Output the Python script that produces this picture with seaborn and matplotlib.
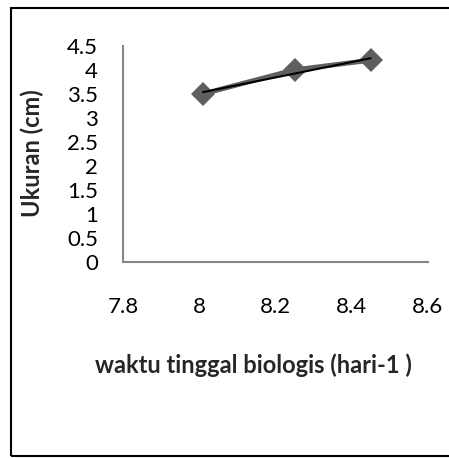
import numpy as np
import pandas as pd
import matplotlib
matplotlib.use("Agg")
import matplotlib.pyplot as plt
from matplotlib.patches import Rectangle
import seaborn as sns

# values
waktu = [8.01, 8.25, 8.45]
ukuran = [3.5, 4.0, 4.2]
x_ticks = [7.8, 8.0, 8.2, 8.4, 8.6]
x_ticklabels = ["7.8", "8", "8.2", "8.4", "8.6"]
y_ticks = [0, 0.5, 1, 1.5, 2, 2.5, 3, 3.5, 4, 4.5]
y_ticklabels = ["0", "0.5", "1", "1.5", "2", "2.5", "3", "3.5", "4", "4.5"]

df = pd.DataFrame({"waktu": waktu, "ukuran": ukuran})

sns.set_theme(style="white")
plt.rcParams["font.family"] = ["Lato", "DejaVu Sans"]

fig = plt.figure(figsize=(4.49, 4.58), dpi=100)
ax = fig.add_axes([0.274, 0.428, 0.679, 0.472])

# data series: thick grey line with diamond markers
sns.lineplot(data=df, x="waktu", y="ukuran", ax=ax, color="#5f5f5f",
             linewidth=3.5, marker="D", markersize=12, markeredgewidth=0)
# linear trendline
sns.regplot(data=df, x="waktu", y="ukuran", ax=ax, scatter=False, ci=None,
            color="black", line_kws={"linewidth": 1.5})

ax.set_xlim(7.8, 8.6)
ax.set_ylim(0, 4.5)
ax.set_xticks(x_ticks)
ax.set_xticklabels(x_ticklabels)
ax.set_yticks(y_ticks)
ax.set_yticklabels(y_ticklabels)
ax.tick_params(axis="both", length=0, labelsize=16, colors="black")
ax.tick_params(axis="x", pad=25)
ax.tick_params(axis="y", pad=18)

for side in ["top", "right"]:
    ax.spines[side].set_visible(False)
for side in ["left", "bottom"]:
    ax.spines[side].set_color("#868686")
    ax.spines[side].set_linewidth(1.5)

ax.set_xlabel("")
ax.set_ylabel("")
fig.text(0.564, 0.203, "waktu tinggal biologis (hari-1 )", ha="center", va="center",
         fontsize=17, fontweight="bold")
fig.text(0.073, 0.666, "Ukuran (cm)", ha="center", va="center", rotation=90,
         fontsize=17, fontweight="bold")

# outer frame around the whole chart
fig.patches.append(Rectangle((0.025, 0.004), 0.99, 0.979, transform=fig.transFigure,
                             fill=False, edgecolor="black", linewidth=1.5))

fig.savefig("out.png", dpi=100)
